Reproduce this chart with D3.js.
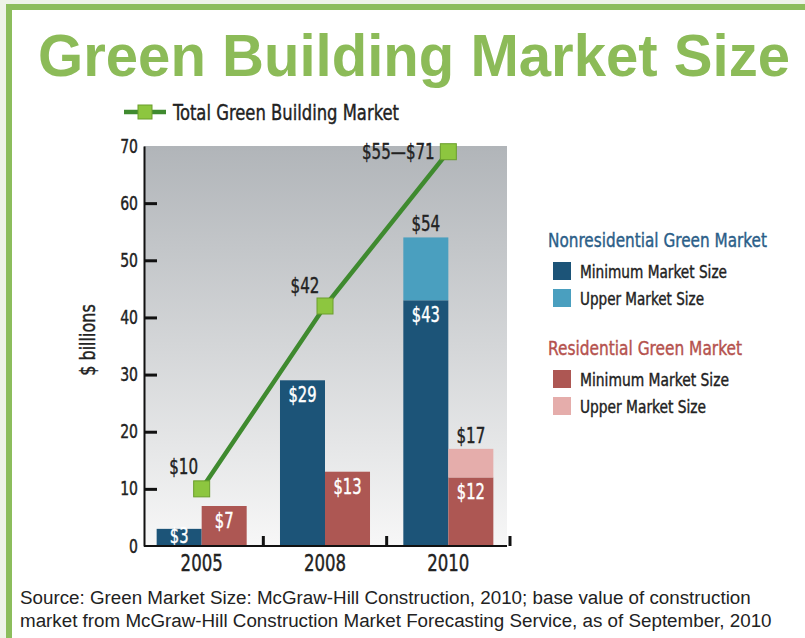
<!DOCTYPE html>
<html>
<head>
<meta charset="utf-8">
<script src="https://cdn.jsdelivr.net/npm/d3@7"></script>
<style>
  body { margin: 0; background: #fff; }
  .narrow { font-family: "Liberation Sans Narrow", "DejaVu Sans Condensed", "Roboto", sans-serif; stroke-width: 0.4px; }
</style>
</head>
<body>
<div id="chart"></div>
<script>
// data
var years = ["2005", "2008", "2010"];
var nonresMin = [3, 29, 43];
var nonresUpper = [null, null, 54];
var resMin = [7, 13, 12];
var resUpper = [null, null, 17];
var totalMarket = [10, 42, 69];
var totalLabels = ["$10", "$42", "$55\u2014$71"];
var yTicks = [0, 10, 20, 30, 40, 50, 60, 70];

var W = 805, H = 638;
var plot = {left: 144, right: 507, top: 146, bottom: 546};

// squeeze text horizontally, the original uses a condensed face
function condense(sel, k) {
  sel.each(function() {
    var l = this.getComputedTextLength();
    d3.select(this).attr("textLength", l * k).attr("lengthAdjust", "spacingAndGlyphs");
  });
}
// thicken a bit with an outline of the same colour
function heavy(sel) {
  sel.each(function() {
    d3.select(this).style("stroke", d3.select(this).style("fill"));
  });
}

var svg = d3.select("#chart")
  .append("svg")
  .attr("width", W)
  .attr("height", H);

// frame
svg.append("rect").attr("width", W).attr("height", H).attr("fill", "#eef3e8");
svg.append("rect").attr("x", 12).attr("y", 10).attr("width", W - 12).attr("height", H - 10).attr("fill", "#fff");
svg.append("rect").attr("x", 6).attr("y", 4).attr("width", W - 6).attr("height", 6).attr("fill", "#8cbd5c");
svg.append("rect").attr("x", 6).attr("y", 4).attr("width", 6).attr("height", H - 4).attr("fill", "#8cbd5c");

// title
svg.append("text")
  .attr("x", 38).attr("y", 76)
  .attr("textLength", 752).attr("lengthAdjust", "spacingAndGlyphs")
  .style("font-family", "'Liberation Sans', Arial, sans-serif")
  .style("font-weight", "bold").style("font-size", "59px")
  .style("fill", "#8cbb58")
  .text("Green Building Market Size");

// plot background gradient
var grad = svg.append("defs").append("linearGradient")
  .attr("id", "bg").attr("x1", 0).attr("y1", 0).attr("x2", 0).attr("y2", 1);
grad.append("stop").attr("offset", "0%").attr("stop-color", "#b1b5b9");
grad.append("stop").attr("offset", "100%").attr("stop-color", "#f7f7f7");

svg.append("rect")
  .attr("x", plot.left).attr("y", plot.top)
  .attr("width", plot.right - plot.left).attr("height", plot.bottom - plot.top)
  .attr("fill", "url(#bg)");

// scales
var y = d3.scaleLinear().domain([0, 70]).range([plot.bottom, plot.top]);
var x = d3.scaleBand().domain(years).range([plot.left - 4, plot.right + 3]).paddingInner(0).paddingOuter(0);
var sub = d3.scaleBand().domain(["nonres", "res"]).range([0, x.bandwidth()]).paddingInner(0).paddingOuter(0.37);

var groups = years.map(function(yr, i) {
  return [
    {year: yr, key: "nonres", min: nonresMin[i], upper: nonresUpper[i], c1: "#1c5478", c2: "#4a9fbf"},
    {year: yr, key: "res", min: resMin[i], upper: resUpper[i], c1: "#ad5753", c2: "#e5adab"}
  ];
});
var bars = d3.merge(groups);

var g = svg.append("g");

// min bars
g.selectAll(".minbar")
  .data(bars)
  .enter()
  .append("rect")
  .attr("x", function(d) { return x(d.year) + sub(d.key); })
  .attr("y", function(d) { return y(d.min); })
  .attr("width", sub.bandwidth())
  .attr("height", function(d) { return y(0) - y(d.min); })
  .attr("fill", function(d) { return d.c1; });

// upper bars
var uppers = bars.filter(function(d) { return d.upper != null; });
g.selectAll(".upbar")
  .data(uppers)
  .enter()
  .append("rect")
  .attr("x", function(d) { return x(d.year) + sub(d.key); })
  .attr("y", function(d) { return y(d.upper); })
  .attr("width", sub.bandwidth())
  .attr("height", function(d) { return y(d.min) - y(d.upper); })
  .attr("fill", function(d) { return d.c2; });

// labels inside bars
g.selectAll(".inlab")
  .data(bars)
  .enter()
  .append("text")
  .attr("class", "narrow")
  .attr("x", function(d) { return x(d.year) + sub(d.key) + sub.bandwidth() / 2; })
  .attr("y", function(d) { return Math.min(y(d.min) + 15, y(0) - 10); })
  .attr("text-anchor", "middle")
  .attr("dominant-baseline", "central")
  .style("font-size", "21px").style("fill", "#fff")
  .text(function(d) { return "$" + d.min; })
  .call(condense, 0.78)
  .call(heavy);

// labels above upper bars
g.selectAll(".uplab")
  .data(uppers)
  .enter()
  .append("text")
  .attr("class", "narrow")
  .attr("x", function(d) { return x(d.year) + sub(d.key) + sub.bandwidth() / 2; })
  .attr("y", function(d) { return y(d.upper) - 13; })
  .attr("text-anchor", "middle")
  .attr("dominant-baseline", "central")
  .style("font-size", "21px").style("fill", "#222")
  .text(function(d) { return "$" + d.upper; })
  .call(condense, 0.8)
  .call(heavy);

// Y axis
var yAxis = svg.append("g")
  .attr("transform", "translate(" + plot.left + ",0)")
  .call(d3.axisLeft(y).tickValues(yTicks).tickSizeInner(-13).tickSizeOuter(0).tickPadding(6));
yAxis.select(".domain").attr("stroke", "#111").attr("stroke-width", 2);
yAxis.selectAll(".tick line")
  .attr("stroke", "#111").attr("stroke-width", 3)
  .style("display", function(d) { return d == 70 || d == 0 ? "none" : null; });
yAxis.selectAll(".tick text")
  .attr("class", "narrow")
  .style("font-size", "19px").style("fill", "#222")
  .call(condense, 0.82)
  .call(heavy);

// X axis
var xAxis = svg.append("g")
  .attr("transform", "translate(0," + plot.bottom + ")")
  .call(d3.axisBottom(x).tickSize(0).tickPadding(9));
xAxis.select(".domain").remove();
xAxis.selectAll(".tick text")
  .attr("class", "narrow")
  .style("font-size", "23px").style("fill", "#222")
  .call(condense, 0.8)
  .call(heavy);
svg.append("line")
  .attr("x1", plot.left).attr("x2", plot.right)
  .attr("y1", plot.bottom).attr("y2", plot.bottom)
  .attr("stroke", "#111").attr("stroke-width", 2);
svg.selectAll(".xtick")
  .data(years)
  .enter()
  .append("line")
  .attr("x1", function(d) { return x(d) + x.bandwidth(); })
  .attr("x2", function(d) { return x(d) + x.bandwidth(); })
  .attr("y1", plot.bottom - 10).attr("y2", plot.bottom)
  .attr("stroke", "#111").attr("stroke-width", 3);

// y axis title
svg.append("text")
  .attr("class", "narrow")
  .attr("transform", "translate(88,340) rotate(-90)")
  .attr("text-anchor", "middle")
  .attr("dominant-baseline", "central")
  .style("font-size", "21px").style("fill", "#222")
  .text("$ billions")
  .call(condense, 0.85)
  .call(heavy);

// total market line
var line = d3.line()
  .x(function(d, i) { return x(years[i]) + x.bandwidth() / 2; })
  .y(function(d) { return y(d); });

svg.append("path")
  .datum(totalMarket)
  .attr("d", line)
  .attr("fill", "none")
  .attr("stroke", "#3f8a2f")
  .attr("stroke-width", 4.5);

svg.selectAll(".marker")
  .data(totalMarket)
  .enter()
  .append("rect")
  .attr("x", function(d, i) { return x(years[i]) + x.bandwidth() / 2 - 8; })
  .attr("y", function(d) { return y(d) - 8; })
  .attr("width", 16).attr("height", 16)
  .attr("fill", "#8dc63f").attr("stroke", "#6b9e2c").attr("stroke-width", 1);

var labelOffsets = [[-18, -22], [-20, -20], [-50, 0]];
svg.selectAll(".totlab")
  .data(totalMarket)
  .enter()
  .append("text")
  .attr("class", "narrow")
  .attr("x", function(d, i) { return x(years[i]) + x.bandwidth() / 2 + labelOffsets[i][0]; })
  .attr("y", function(d, i) { return y(d) + labelOffsets[i][1]; })
  .attr("text-anchor", "middle")
  .attr("dominant-baseline", "central")
  .style("font-size", "21px").style("fill", "#222")
  .text(function(d, i) { return totalLabels[i]; })
  .call(condense, 0.8)
  .call(heavy);

// top legend
var leg = svg.append("g").attr("transform", "translate(124,112)");
leg.append("line").attr("x1", 0).attr("x2", 42).attr("y1", 0).attr("y2", 0)
  .attr("stroke", "#3f8a2f").attr("stroke-width", 4.5);
leg.append("rect").attr("x", 14).attr("y", -7).attr("width", 14).attr("height", 14)
  .attr("fill", "#8dc63f").attr("stroke", "#6b9e2c");
leg.append("text")
  .attr("class", "narrow")
  .attr("x", 49).attr("y", 0)
  .attr("dominant-baseline", "central")
  .style("font-size", "22px").style("fill", "#222")
  .text("Total Green Building Market")
  .attr("textLength", 226).attr("lengthAdjust", "spacingAndGlyphs")
  .call(heavy);

// right legend
var legendGroups = [
  {title: "Nonresidential Green Market", color: "#2b5e88", y: 240, tw: 219,
   items: [{label: "Minimum Market Size", color: "#1c5478", tw: 147}, {label: "Upper Market Size", color: "#4a9fbf", tw: 124}]},
  {title: "Residential Green Market", color: "#b5524e", y: 348, tw: 194,
   items: [{label: "Minimum Market Size", color: "#ad5753", tw: 149}, {label: "Upper Market Size", color: "#e5adab", tw: 126}]}
];

legendGroups.forEach(function(lg) {
  var gg = svg.append("g").attr("transform", "translate(548," + lg.y + ")");
  gg.append("text")
    .attr("class", "narrow")
    .attr("x", 0).attr("y", 0)
    .attr("dominant-baseline", "central")
    .attr("textLength", lg.tw).attr("lengthAdjust", "spacingAndGlyphs")
    .style("font-size", "20px").style("fill", lg.color)
    .text(lg.title)
    .call(heavy);
  lg.items.forEach(function(it, i) {
    gg.append("rect")
      .attr("x", 5).attr("y", 22 + i * 27).attr("width", 18).attr("height", 18)
      .attr("fill", it.color);
    gg.append("text")
      .attr("class", "narrow")
      .attr("x", 32).attr("y", 31 + i * 27)
      .attr("dominant-baseline", "central")
      .attr("textLength", it.tw).attr("lengthAdjust", "spacingAndGlyphs")
      .style("font-size", "18px").style("fill", "#222")
      .text(it.label)
      .call(heavy);
  });
});

// source note
var src = ["Source: Green Market Size: McGraw-Hill Construction, 2010; base value of construction",
           "market from McGraw-Hill Construction Market Forecasting Service, as of September, 2010"];
svg.selectAll(".src")
  .data(src)
  .enter()
  .append("text")
  .attr("x", 20)
  .attr("y", function(d, i) { return 604 + i * 23; })
  .style("font-family", "'Liberation Sans', Arial, sans-serif")
  .style("font-size", "18.8px").style("fill", "#222")
  .text(function(d) { return d; });
</script>
</body>
</html>
